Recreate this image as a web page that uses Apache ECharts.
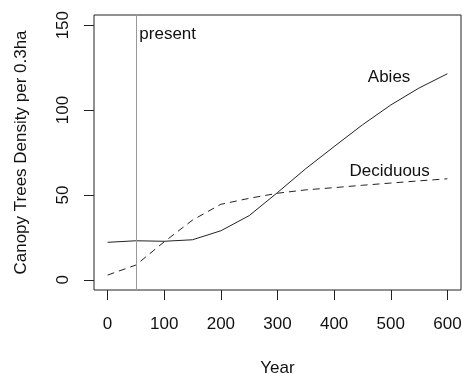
<!DOCTYPE html>
<html>
<head>
<meta charset="utf-8">
<script src="https://cdn.jsdelivr.net/npm/echarts@6/dist/echarts.min.js"></script>
<style>
  html, body { margin: 0; padding: 0; background: #fff; }
  #main { width: 462px; height: 374px; }
</style>
</head>
<body>
<div id="main"></div>
<script>
var years = [0, 50, 100, 150, 200, 250, 300, 350, 400, 450, 500, 550, 600];
var abies = [22.1, 23.0, 22.7, 23.6, 28.9, 37.8, 51.4, 65.5, 78.5, 91.3, 103.0, 113.0, 121.4];
var deciduous = [2.8, 8.7, 22.4, 35.2, 44.5, 48.0, 51.0, 53.0, 54.3, 55.7, 57.0, 58.3, 59.5];
var xTicks = [0, 100, 200, 300, 400, 500, 600];
var yTicks = [0, 50, 100, 150];
var presentYear = 50;

var font = 'Liberation Sans, Arial, Helvetica, sans-serif';

function pairs(xs, ys) {
    return xs.map(function (x, i) { return [x, ys[i]]; });
}

var myChart = echarts.init(document.getElementById('main'));
var options = {
    animation: false,
    grid: {
        left: 94, top: 15, width: 367, height: 275,
        outerBoundsMode: 'none',
        containLabel: false,
        show: true, borderColor: '#222', borderWidth: 1, backgroundColor: 'transparent'
    },
    xAxis: {
        type: 'value',
        min: -24, max: 624,
        name: 'Year',
        nameLocation: 'middle',
        nameGap: 70,
        nameTextStyle: { fontFamily: font, fontSize: 17, color: '#111' },
        axisLine: { show: false, onZero: false },
        splitLine: { show: false },
        axisTick: { show: true, inside: false, length: 10, customValues: xTicks, lineStyle: { color: '#222' } },
        axisLabel: { customValues: xTicks, margin: 26, fontFamily: font, fontSize: 17, color: '#111' }
    },
    yAxis: {
        type: 'value',
        min: -6, max: 156,
        name: 'Canopy Trees Density per 0.3ha',
        nameLocation: 'middle',
        nameRotate: 90,
        nameGap: 64,
        nameTextStyle: { fontFamily: font, fontSize: 17, color: '#111' },
        axisLine: { show: false, onZero: false },
        splitLine: { show: false },
        axisTick: { show: true, inside: false, length: 10, customValues: yTicks, lineStyle: { color: '#222' } },
        axisLabel: { customValues: yTicks, rotate: 90, margin: 22, fontFamily: font, fontSize: 17, color: '#111' }
    },
    series: [
        {
            name: 'Abies',
            type: 'line',
            data: pairs(years, abies),
            showSymbol: false,
            lineStyle: { color: '#222', width: 1 },
            markLine: {
                silent: true,
                symbol: 'none',
                label: { show: false },
                lineStyle: { color: '#999', type: 'solid', width: 1 },
                data: [{ xAxis: presentYear }]
            },
            markPoint: {
                symbol: 'circle',
                symbolSize: 0,
                label: { show: true, fontFamily: font, fontSize: 17, color: '#111', formatter: '{b}' },
                data: [
                    { name: 'Abies', coord: [497, 119] },
                    { name: 'present', coord: [56, 144.5], label: { position: 'right', distance: 0 } }
                ]
            }
        },
        {
            name: 'Deciduous',
            type: 'line',
            data: pairs(years, deciduous),
            showSymbol: false,
            lineStyle: { color: '#222', width: 1, type: [7, 5] },
            markPoint: {
                symbol: 'circle',
                symbolSize: 0,
                label: { show: true, fontFamily: font, fontSize: 17, color: '#111', formatter: '{b}' },
                data: [
                    { name: 'Deciduous', coord: [498, 64] }
                ]
            }
        }
    ]
};
myChart.setOption(options);
</script>
</body>
</html>
